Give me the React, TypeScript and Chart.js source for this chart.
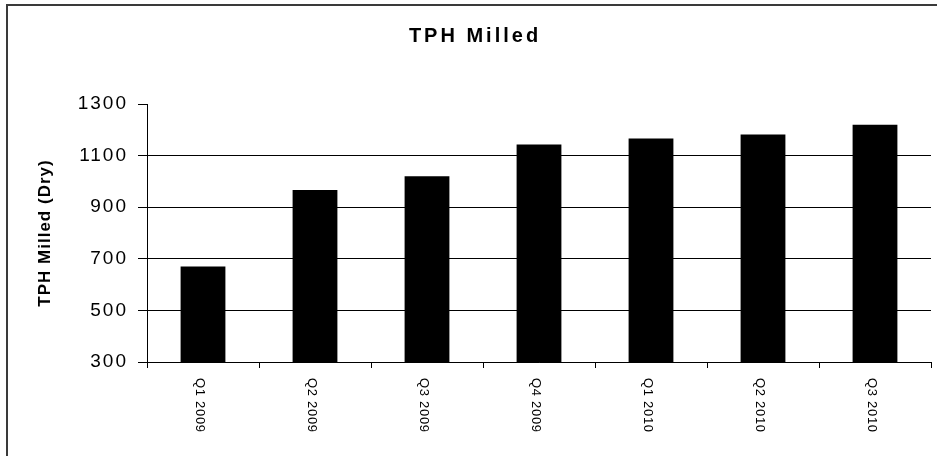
import React, { useEffect, useRef } from "react";
import { Chart, registerables } from "chart.js";

Chart.register(...registerables);

const categories = ["Q1 2009", "Q2 2009", "Q3 2009", "Q4 2009", "Q1 2010", "Q2 2010", "Q3 2010"];
const tphMilled = [670, 967, 1020, 1143, 1166, 1182, 1220];
const yTickValues = [300, 500, 700, 900, 1100, 1300];
const chartTitle = "TPH Milled";
const yAxisTitle = "TPH Milled (Dry)";

const W = 937;
const H = 456;
const FONT = "'Liberation Sans', Arial, sans-serif";

const customText = {
  id: "customText",
  beforeDraw(chart: any) {
    const ctx = chart.ctx;
    ctx.letterSpacing = "2px";
  },
  afterDraw(chart: any) {
    const ctx = chart.ctx;
    ctx.save();
    ctx.letterSpacing = "0px";
    // outer frame (left + top edges)
    ctx.fillStyle = "#3a3a3a";
    ctx.fillRect(6, 4, 2, H);
    ctx.fillRect(6, 4, W, 2);

    // title
    ctx.fillStyle = "#000";
    ctx.letterSpacing = "3px";
    ctx.font = `bold 20px ${FONT}`;
    ctx.textAlign = "center";
    ctx.textBaseline = "middle";
    ctx.fillText(chartTitle, 475, 36);

    // y axis title
    const area = chart.chartArea;
    ctx.save();
    ctx.letterSpacing = "1px";
    ctx.font = `bold 17px ${FONT}`;
    ctx.translate(45, (area.top + area.bottom) / 2);
    ctx.rotate(-Math.PI / 2);
    ctx.textAlign = "center";
    ctx.textBaseline = "middle";
    ctx.fillText(yAxisTitle, 0, 0);
    ctx.restore();

    // x labels, rotated clockwise (reading top to bottom)
    const xs = chart.scales.x;
    ctx.letterSpacing = "0.7px";
    ctx.font = `13px ${FONT}`;
    ctx.textAlign = "left";
    ctx.textBaseline = "middle";
    categories.forEach((label, i) => {
      const x = xs.getPixelForValue(i) - 3;
      ctx.save();
      ctx.translate(x, area.bottom + 16);
      ctx.rotate(Math.PI / 2);
      ctx.fillText(label, 0, 0);
      ctx.restore();
    });
    ctx.restore();
  },
};

export default function App() {
  const ref = useRef<HTMLCanvasElement | null>(null);

  useEffect(() => {
    if (!ref.current) return;
    const chart = new Chart(ref.current, {
      type: "bar",
      data: {
        labels: categories,
        datasets: [
          {
            label: chartTitle,
            data: tphMilled,
            backgroundColor: "#000",
            borderWidth: 0,
            barPercentage: 0.4,
            categoryPercentage: 1,
          },
        ],
      },
      options: {
        responsive: false,
        animation: false,
        devicePixelRatio: 1,
        layout: { padding: { top: 104, right: 6, bottom: 0, left: 0 } },
        plugins: {
          legend: { display: false },
          title: { display: false },
          tooltip: { enabled: false },
        },
        scales: {
          x: {
            offset: true,
            grid: {
              offset: true,
              drawOnChartArea: false,
              drawTicks: true,
              tickLength: 6,
              color: "#000",
              tickColor: "#000",
              lineWidth: 1,
            },
            border: { display: true, color: "#000", width: 1 },
            ticks: { display: false },
            afterFit: (scale: any) => {
              scale.height = H - 362;
            },
          },
          y: {
            min: 300,
            max: 1300,
            afterBuildTicks: (scale: any) => {
              scale.ticks = yTickValues.map((v) => ({ value: v }));
            },
            grid: {
              color: (c: any) => (c.tick && c.tick.value === 1300 ? "rgba(0,0,0,0)" : "#000"),
              tickColor: "#000",
              tickLength: 9,
              lineWidth: 1,
            },
            border: { display: true, color: "#000", width: 1 },
            ticks: {
              color: "#000",
              padding: 10,
              font: { family: FONT, size: 19 },
              callback: (v: any) => String(v),
            },
            afterFit: (scale: any) => {
              scale.width = 147;
            },
          },
        },
      },
      plugins: [customText],
    });
    return () => chart.destroy();
  }, []);

  return (
    <div style={{ position: "fixed", left: 0, top: 0, width: W, height: H, background: "#fff" }}>
      <canvas ref={ref} width={W} height={H} style={{ width: W, height: H, display: "block" }} />
    </div>
  );
}
